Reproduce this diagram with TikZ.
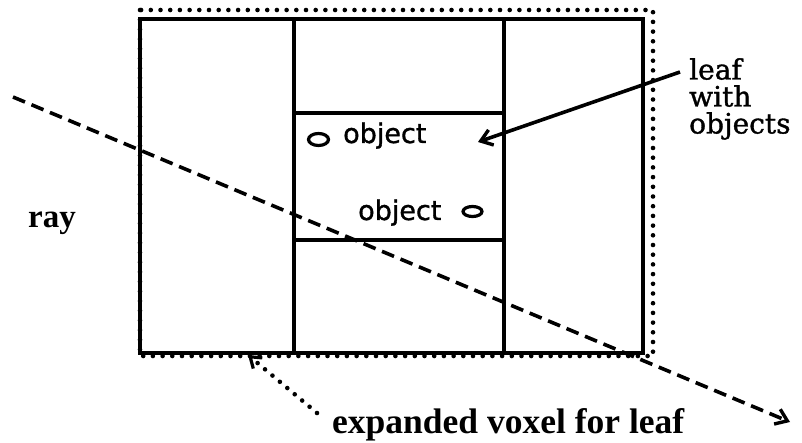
\documentclass[tikz,border=0pt]{standalone}
\usepackage{fontspec}
\setmainfont[FakeBold=1.2]{DejaVu Serif}
\newfontfamily\objfont[FakeBold=1.2]{DejaVu Sans}
\newfontfamily\bserif{Liberation Serif}
\usetikzlibrary{arrows.meta}
\begin{document}
\begin{tikzpicture}[x=1pt,y=-1pt,
  solidline/.style={line width=3.6pt},
  dotline/.style={line width=4.6pt, line cap=round, dash pattern=on 0pt off 9.7pt},
  rayline/.style={line width=3.6pt, dash pattern=on 13pt off 7pt},
  barb/.style={-{Straight Barb[length=11pt,width=16pt,line width=3.4pt]}},
  objlabel/.style={font=\objfont\fontsize{27}{30}\selectfont, inner sep=0pt, anchor=base west},
  oval/.style={line width=3.2pt},
  boldlabel/.style={font=\bserif\bfseries\fontsize{35.5}{38}\selectfont, inner sep=0pt, anchor=base west}]
\useasboundingbox (0,0) rectangle (802,443);

% cells
\draw[solidline] (140,19) rectangle (643,353);
\draw[solidline] (294,19) -- (294,353);
\draw[solidline] (504,19) -- (504,353);
\draw[solidline] (294,113) -- (504,113);
\draw[solidline] (294,240) -- (504,240);

% expanded voxel (dotted)
\draw[dotline] (140,10) rectangle (653,356);

% objects
\draw[oval] (318.5,139.5) ellipse [x radius=10, y radius=6];
\draw[oval] (472.5,211.5) ellipse [x radius=9.5, y radius=5];
\node[objlabel] (obj1) at (343,143) {object};
\node[objlabel] (obj2) at (358,220) {object};

% leaf label
\node[font=\fontsize{28}{27}\selectfont, align=left, inner sep=0pt, anchor=north west] (leaf) at (689,58) {leaf\\with\\objects};
\coordinate (la) at (680,72);
\coordinate (lb) at (478,142);
\draw[solidline, barb] (la) -- (lb);

% ray
\node[boldlabel, font=\bserif\bfseries\fontsize{33}{35}\selectfont] (ray) at (28,228) {ray};
\coordinate (r0) at (13,97);
\coordinate (r1) at (790,422);
\draw[rayline, barb] (r0) -- (r1);

% expanded voxel label
\node[boldlabel] (exp) at (332,433) {expanded voxel for leaf};
\coordinate (e0) at (317,413);
\coordinate (e1) at (248,355);
\draw[dotline, -{Straight Barb[length=10pt,width=14pt,line width=3.2pt]}] (e0) -- (e1);
\end{tikzpicture}
\end{document}
